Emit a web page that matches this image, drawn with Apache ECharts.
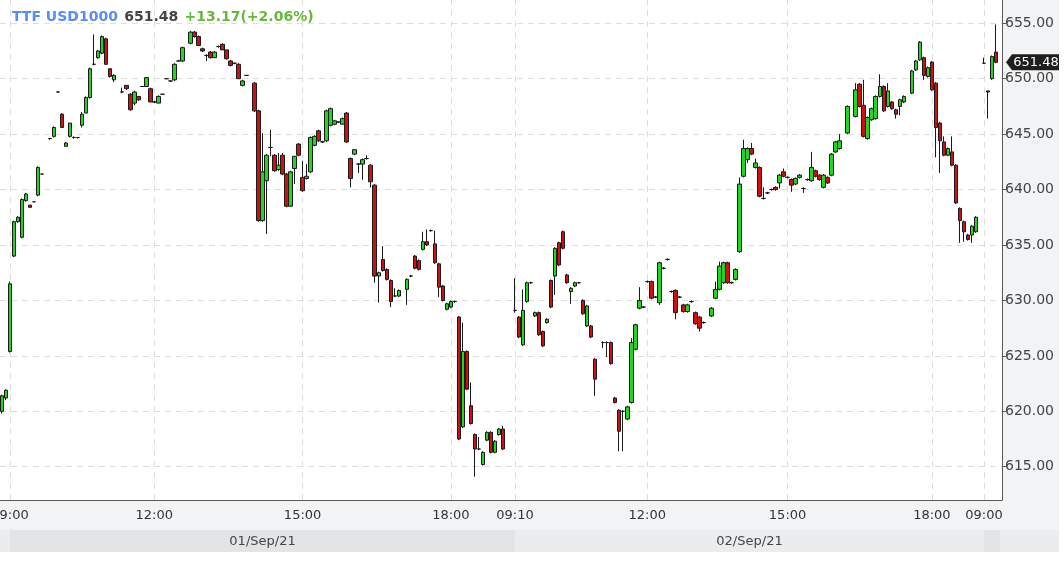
<!DOCTYPE html>
<html><head><meta charset="utf-8">
<script src="https://cdn.jsdelivr.net/npm/echarts@6/dist/echarts.min.js"></script>
<style>html,body{margin:0;padding:0;background:#fff}#c{width:1064px;height:582px}</style>
</head><body><div id="c"></div><script>
// ---- text / labels ----
const instrument = 'TTF USD1000';
const lastPrice = 651.48;
const changeText = '+13.17(+2.06%)';
const slotCount = 250;                       // 5-minute slots shown on the x axis
const tickSlots  = [2, 38, 75, 112, 128, 161, 196, 232, 245];
const tickLabels = ['09:00','12:00','15:00','18:00','09:10','12:00','15:00','18:00','09:00'];
const dayLabels  = ['01/Sep/21', '02/Sep/21'];
const daySlots   = [2, 128, 245];            // first slot of each session

// ---- candles: [slot, open, close, low, high] ----
const day1 = [
 [0,620.0,621.4,619.8,621.5],[1,621.2,621.9,621.0,622.0],[2,625.4,631.5,625.3,631.7],[3,634.0,637.1,633.9,637.2],
 [4,637.1,637.5,637.0,637.6],[5,635.7,639.1,635.6,639.2],[6,639.0,639.6,638.9,639.7],[7,638.6,638.4,638.4,638.6],
 [8,638.9,638.9,638.9,638.9],[9,639.5,642.0,639.4,642.1],[10,641.4,641.4,641.4,641.4],[12,644.6,644.6,644.5,644.6],
 [13,644.8,645.6,644.7,645.7],[14,648.8,648.8,648.8,648.9],[15,646.8,645.6,645.6,646.9],[16,643.9,644.2,643.9,644.3],
 [17,644.8,646.0,644.7,646.0],[18,644.7,644.7,644.6,644.8],[19,644.7,644.7,644.6,644.7],[20,645.8,646.8,645.6,647.0],
 [21,646.9,648.3,646.9,648.4],[22,648.3,650.9,648.2,651.0],[23,651.3,651.3,651.2,654.0],[24,651.9,652.5,651.8,652.6],
 [25,652.3,653.8,652.2,653.9],[26,653.6,651.3,651.3,653.7],[27,650.9,650.2,650.1,650.9],[28,649.9,650.3,649.7,650.4],
 [30,648.8,648.8,648.7,649.2],[31,649.4,649.1,649.0,649.4],[32,648.6,647.2,647.1,648.7],[33,647.8,648.8,647.6,648.9],
 [34,648.4,648.1,648.0,648.4],[35,649.3,649.3,649.3,649.3],[36,649.3,650.1,649.3,650.1],[37,649.1,647.9,647.9,649.2],
 [38,647.9,647.9,647.8,648.0],[39,647.8,648.4,647.8,648.5],[40,648.6,648.6,648.6,648.6],[41,650.0,650.0,650.0,650.0],
 [42,649.8,649.8,649.7,649.8],[43,649.9,651.3,649.8,651.4],[44,651.6,651.6,651.6,651.7],[45,651.6,652.8,651.5,652.9],
 [47,653.2,654.2,653.1,654.3],[48,654.2,653.8,653.7,654.3],[49,653.8,653.0,653.0,653.9],[50,652.7,652.5,652.4,652.8],
 [51,652.1,652.1,651.6,652.2],[52,652.4,651.9,651.8,652.5],[53,651.9,652.4,651.9,652.5],[54,652.9,652.9,652.8,653.0],
 [55,653.1,652.6,652.6,653.2],[56,652.6,651.8,651.7,652.6],[57,651.6,651.2,651.1,651.7],[58,651.4,651.4,651.3,651.4],
 [59,651.3,650.0,650.0,651.4],[60,649.4,649.8,649.3,649.9],[61,650.3,650.3,650.3,650.3],[63,649.6,647.1,647.0,649.7],
 [64,647.1,637.2,637.1,647.2],[65,637.2,641.6,637.1,645.1],[66,640.8,643.1,636.0,643.2],[67,643.8,643.8,643.0,645.4],
 [68,643.1,641.7,641.6,643.2],[69,641.8,642.2,641.7,643.3],[70,643.1,641.4,641.3,643.3],[71,641.4,638.5,638.4,641.5],
 [72,638.5,641.6,638.5,641.7],[73,641.9,643.0,640.5,643.0],[74,644.1,643.1,643.0,644.2],[75,641.1,639.9,639.8,642.6],
 [76,641.0,641.2,640.9,642.3],[77,641.6,644.7,641.5,644.8],[78,644.0,644.8,643.9,644.9],[79,645.3,644.4,644.3,645.4],
 [80,644.3,644.3,644.2,644.4],[81,644.4,647.1,644.3,647.2],[82,645.8,647.3,645.7,647.4],[83,645.9,646.2,645.8,646.3],
 [84,646.1,646.1,646.0,646.1],[85,645.9,646.4,645.9,646.5],[86,646.9,644.3,644.2,647.0],[87,642.8,641.0,640.2,642.9],
 [88,643.2,643.6,643.1,643.6],[89,642.3,642.3,641.5,642.4],[90,642.3,642.7,640.9,642.8],[91,642.8,642.8,642.7,643.1],
 [92,642.2,640.7,640.2,642.3],[93,640.4,632.2,631.6,640.5],[94,632.2,632.5,629.8,632.6],[95,633.7,632.7,632.6,634.9],
 [96,632.8,631.9,631.8,632.9],[97,631.8,629.9,629.4,631.9],[98,630.4,630.4,630.3,631.1],[99,630.4,630.9,630.3,631.0],
 [101,631.0,631.9,629.6,632.0],[102,632.2,632.2,632.1,632.3],[103,634.0,632.9,632.8,634.1],[104,633.6,632.8,632.7,633.7],
 [105,634.6,635.3,634.5,636.2],[106,635.3,635.0,634.9,636.4],[107,636.3,636.3,636.2,636.4],[108,635.1,633.4,633.3,636.3],
 [109,633.3,631.2,630.3,633.4],[110,631.3,630.0,629.9,631.4],[111,629.2,629.7,629.1,629.8],[112,629.4,629.9,629.3,630.0],
 [113,629.9,629.9,629.8,630.0],[114,628.5,617.5,617.4,628.6],[115,618.6,625.4,618.5,628.0],[116,625.4,622.0,621.9,625.5],
 [117,620.5,618.9,618.8,622.6],[118,617.9,616.6,614.1,618.0],[119,616.6,616.6,616.5,617.7],[120,615.2,616.3,615.1,616.4],
 [121,617.4,618.1,617.3,618.2],[122,618.1,616.3,616.2,618.2],[123,616.3,617.3,616.2,617.4],[124,617.9,618.4,617.8,618.5],
 [125,618.4,616.6,616.5,618.7]
];
const day2 = [
 [128,629.1,629.1,628.9,632.0],[129,628.5,626.7,626.6,628.6],[130,626.0,629.1,625.9,631.0],[131,629.9,631.6,629.8,631.7],
 [132,631.6,631.6,631.5,631.7],[133,628.6,628.9,628.5,629.0],[134,628.9,626.9,626.8,629.0],[135,627.2,625.9,625.8,627.3],
 [136,628.0,628.3,627.9,628.4],[137,631.8,629.4,629.3,631.9],[138,632.2,634.7,630.5,634.8],[139,635.2,633.2,633.1,635.3],
 [140,636.2,634.7,634.6,636.3],[141,632.3,631.6,631.5,632.4],[142,630.8,631.1,629.7,631.2],[143,631.3,631.6,631.2,631.7],
 [144,631.6,631.6,631.5,631.6],[145,630.0,628.8,628.7,630.1],[146,627.7,629.5,627.6,629.6],[147,627.7,626.7,626.6,627.8],
 [148,624.7,622.9,621.4,624.8],[150,626.2,626.2,625.7,626.3],[151,626.2,626.2,624.9,626.3],[152,626.2,624.3,624.2,626.3],
 [153,621.2,620.8,620.7,621.3],[154,620.1,618.2,616.4,620.2],[155,620.0,620.0,616.4,620.1],[156,619.3,620.4,619.2,620.5],
 [157,620.8,626.2,620.7,626.6],[158,625.6,627.8,625.5,627.9],[159,629.3,630.0,629.2,631.2],[160,629.4,629.4,629.3,629.5],
 [161,631.7,631.7,631.6,631.8],[162,631.7,630.2,630.1,631.8],[163,630.3,630.3,630.2,630.4],[164,629.8,633.4,629.6,633.5],
 [165,632.9,632.9,632.8,633.0],[166,633.7,633.7,633.6,633.8],[167,630.8,630.8,630.7,630.9],[168,630.9,628.9,628.3,631.0],
 [169,630.3,630.3,630.2,630.4],[170,629.6,629.0,628.9,629.7],[171,629.0,629.6,628.9,629.7],[172,629.9,629.9,629.8,630.0],
 [173,628.9,627.9,627.8,629.0],[174,628.5,627.5,627.2,628.6],[175,628.0,628.0,627.9,628.1],[177,628.6,629.3,628.5,629.4],
 [178,630.2,631.0,630.1,631.7],[179,631.0,633.1,630.9,633.5],[180,631.6,633.4,631.5,633.5],[181,633.4,631.6,631.5,633.5],
 [182,631.6,631.6,631.5,631.7],[183,631.9,632.8,631.8,632.9],[184,634.4,640.5,634.3,641.1],[185,641.2,643.7,641.1,644.5],
 [186,642.7,643.7,642.4,643.8],[187,643.7,643.2,643.1,644.2],[188,642.0,642.4,641.9,642.8],[189,642.0,639.4,639.3,642.1],
 [190,639.2,639.2,639.1,640.2],[191,639.7,639.7,639.6,639.8],[192,640.0,640.0,639.9,640.1],[193,640.2,640.0,639.9,640.3],
 [194,640.6,641.3,640.1,641.4],[195,641.6,641.2,641.1,641.9],[196,641.1,641.1,641.0,641.2],[197,640.9,640.4,639.8,641.0],
 [198,640.5,641.0,640.4,641.1],[199,641.1,641.3,641.0,641.4],[200,640.1,640.1,639.7,640.2],[201,640.9,640.9,640.8,641.0],
 [202,640.8,642.0,640.7,643.4],[203,641.7,641.2,641.1,641.8],[204,641.3,640.9,640.8,641.4],[205,640.2,641.3,640.1,641.4],
 [206,641.1,640.6,640.5,641.2],[207,641.3,643.2,641.2,643.3],[208,643.4,644.3,643.3,644.4],[209,643.7,644.4,643.6,645.0],
 [211,645.1,647.5,645.0,647.6],[213,646.6,649.0,646.5,649.6],[214,649.5,647.5,647.4,649.6],[215,647.6,644.8,644.7,649.9],
 [216,644.6,646.5,644.5,646.6],[217,646.3,647.3,646.2,647.4],[218,646.4,648.4,646.3,648.5],[219,648.4,649.3,648.3,650.4],
 [220,649.3,647.1,647.0,649.4],[221,647.5,648.9,647.4,649.6],[222,647.9,647.3,647.2,648.0],[223,647.2,646.8,646.4,647.3],
 [224,647.5,648.1,646.7,648.2],[225,647.9,648.4,647.8,648.5],[227,648.7,650.7,648.6,650.8],[228,650.8,651.6,650.7,651.7],
 [229,651.7,653.3,651.6,653.4],[230,651.9,650.3,649.9,652.0],[231,650.2,651.0,650.1,651.1],[232,651.5,649.0,648.9,651.6],
 [233,649.6,645.6,642.9,649.7],[234,646.0,644.4,641.5,646.1],[235,644.3,643.1,643.0,644.8],[236,643.1,643.7,643.0,643.8],
 [237,643.4,642.2,642.1,644.8],[238,642.2,638.8,638.7,642.3],[239,638.3,637.2,635.2,638.4],[240,637.1,636.2,635.3,637.2],
 [241,635.9,635.5,635.4,636.0],[242,635.9,636.7,635.2,636.8],[243,636.2,637.5,636.1,637.6]
];
const day3 = [
 [245,651.4,651.4,651.4,651.9],[246,648.9,648.8,646.4,648.9],[247,650.0,652.0,649.9,652.1],[248,652.4,651.48,651.4,654.9]
];

// ---- build ----
const categories = [];
for (let i = 0; i < slotCount; i++) categories.push(String(i));
const ohlc = categories.map(() => '-');
[day1, day2, day3].forEach(d => d.forEach(r => { ohlc[r[0]] = [r[1], r[2], r[3], r[4]]; }));
const tickSet = new Set(tickSlots);
const labelOf = {};
tickSlots.forEach((s, k) => labelOf[s] = tickLabels[k]);

const FONT = 'DejaVu Sans';
const chart = echarts.init(document.getElementById('c'), null, {renderer: 'canvas'});
chart.setOption({
  animation: false,
  backgroundColor: '#f2f3f5',
  title: {
    left: 12, top: 8, padding: 0,
    text: '{a|' + instrument + '} {b|' + lastPrice.toFixed(2) + '} {c|' + changeText + '}',
    textStyle: {
      fontFamily: FONT,
      rich: {
        a: {color: '#5b8cf5', fontWeight: 'bold', fontSize: 14, fontFamily: FONT},
        b: {color: '#444444', fontWeight: 'bold', fontSize: 14, fontFamily: FONT},
        c: {color: '#66b83a', fontWeight: 'bold', fontSize: 14, fontFamily: FONT}
      }
    }
  },
  grid: {left: 0, right: 62, top: 0, bottom: 82, show: true, backgroundColor: '#ffffff', borderWidth: 0,
         containLabel: false, outerBoundsMode: 'none'},
  xAxis: {
    type: 'category', data: categories, boundaryGap: true,
    axisLine: {lineStyle: {color: '#5a5a5a', width: 1}},
    axisTick: {alignWithLabel: true, interval: (i) => tickSet.has(i), length: 4, lineStyle: {color: '#5a5a5a'}},
    axisLabel: {interval: (i) => tickSet.has(i), formatter: (v, i) => labelOf[i] || '', margin: 9,
      fontFamily: FONT, fontSize: 13, color: '#333333', hideOverlap: false},
    splitLine: {show: false}
  },
  yAxis: {
    type: 'value', position: 'right', min: 612.0, max: 657.1, splitNumber: 9, minInterval: 5, maxInterval: 5,
    axisLine: {show: true, lineStyle: {color: '#5a5a5a', width: 1}},
    axisTick: {show: true, length: 4, lineStyle: {color: '#5a5a5a'}},
    axisLabel: {showMinLabel: false, showMaxLabel: false, margin: 3, fontFamily: FONT, fontSize: 14, color: '#444444',
      formatter: (v) => (Math.abs(v / 5 - Math.round(v / 5)) < 1e-6 ? v.toFixed(2) : '')},
    splitLine: {show: true, showMinLine: false, showMaxLine: false, lineStyle: {color: '#dddddd', type: [6, 5], width: 1}}
  },
  series: [{
    type: 'candlestick', data: ohlc, barWidth: 4,
    itemStyle: {color: '#1fd81f', color0: '#d01010', borderColor: '#1a1a1a', borderColor0: '#1a1a1a', borderWidth: 1},
    markLine: {
      silent: true, z: 1, symbol: ['none', 'none'], label: {show: false},
      lineStyle: {color: '#dddddd', type: [6, 5], width: 1},
      data: tickSlots.map(s => ({xAxis: s}))
    }
  }]
});

// ---- decorations computed from axes ----
const px = s => chart.convertToPixel({xAxisIndex: 0}, s);
const ty = chart.convertToPixel({yAxisIndex: 0}, lastPrice);
const gridRight = 1002;
const d1 = px(daySlots[0]), d2 = px(daySlots[1]), d3 = px(daySlots[2]);
chart.setOption({
  graphic: [
    {type: 'rect', shape: {x: 0, y: 552, width: 1064, height: 30}, style: {fill: '#ffffff'}},
    {type: 'rect', shape: {x: 1059, y: 0, width: 5, height: 582}, style: {fill: '#ffffff'}},
    {type: 'rect', shape: {x: 0, y: 530, width: 1059, height: 22}, style: {fill: '#ebecee'}},
    {type: 'rect', shape: {x: d1, y: 530, width: d2 - d1, height: 22}, style: {fill: '#e3e4e6'}},
    {type: 'rect', shape: {x: d3, y: 530, width: gridRight - 2 - d3, height: 22}, style: {fill: '#e3e4e6'}},
    {type: 'text', x: (d1 + d2) / 2, y: 542, style: {text: dayLabels[0], fill: '#444444', font: '13px "DejaVu Sans"', align: 'center', verticalAlign: 'middle'}},
    {type: 'text', x: (d2 + d3) / 2, y: 542, style: {text: dayLabels[1], fill: '#444444', font: '13px "DejaVu Sans"', align: 'center', verticalAlign: 'middle'}},
    {type: 'polygon', shape: {points: [[1006, ty], [1012, ty - 8], [1059, ty - 8], [1059, ty + 8], [1012, ty + 8]]}, style: {fill: '#1e1e1e'}, z: 100},
    {type: 'text', x: 1036, y: ty, style: {text: lastPrice.toFixed(2), fill: '#ffffff', font: '13px "DejaVu Sans"', align: 'center', verticalAlign: 'middle'}, z: 101}
  ]
});
</script></body></html>
